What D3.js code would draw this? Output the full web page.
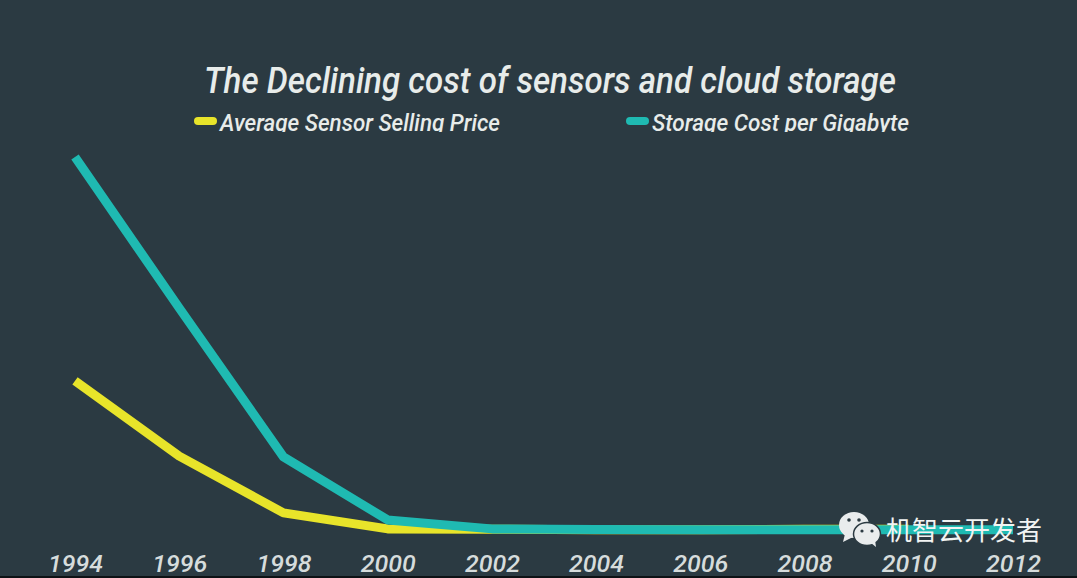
<!DOCTYPE html>
<html><head><meta charset="utf-8">
<script src="https://cdnjs.cloudflare.com/ajax/libs/d3/7.8.5/d3.min.js"></script>
<style>html,body{margin:0;padding:0;background:#2b3a42;overflow:hidden}svg{display:block}
text{font-family:"Roboto","Liberation Sans",sans-serif;font-style:italic;font-weight:500;fill:#e8ecea}</style>
</head><body><svg id="c" width="1077" height="578"></svg>
<script>
const years=[1994,1996,1998,2000,2002,2004,2006,2008,2010,2012];
const sensorPrice=[40,19.8,4.6,0.3,0.2,0.1,0.1,0.2,0.2,null];
const storageCost=[100,59.5,19.6,2.7,0.3,0.15,0.1,0.1,0.1,0.1];
const titleText="The Declining cost of sensors and cloud storage";
const seriesNames=["Average Sensor Selling Price","Storage Cost per Gigabyte"];
const seriesColors=["#e8e42a","#1fbab2"];
const watermark="机智云开发者";

const svg=d3.select("#c");
const x=d3.scalePoint().domain(years).range([75,1013]);
const y=d3.scaleLinear().domain([0,100]).range([530,157]);
const line=d3.line().defined(d=>d.v!==null).x(d=>x(d.y)).y(d=>y(d.v)).curve(d3.curveLinear);

svg.append("rect").attr("width",1077).attr("height",578).attr("fill","#2b3a42");
svg.append("rect").attr("y",576).attr("width",1077).attr("height",2).attr("fill","#0d1215");

[sensorPrice,storageCost].forEach((vals,i)=>{
  svg.append("path").datum(years.map((yr,j)=>({y:yr,v:vals[j]})))
    .attr("d",line).attr("fill","none").attr("stroke",seriesColors[i])
    .attr("stroke-width",9).attr("stroke-linejoin","round");
});

// title
svg.append("text").attr("x",550).attr("y",93).attr("text-anchor","middle")
  .attr("font-size",36).attr("textLength",692).attr("lengthAdjust","spacingAndGlyphs").text(titleText);

// legend (descenders are cut off in the source)
svg.append("defs").append("clipPath").attr("id","lg").append("rect")
  .attr("x",0).attr("y",100).attr("width",1077).attr("height",32);
const lg=svg.append("g").attr("clip-path","url(#lg)");
[[220,280],[652,257]].forEach(([lx,len],i)=>{
  lg.append("line").attr("x1",lx-22).attr("x2",lx-7).attr("y1",121).attr("y2",121)
    .attr("stroke",seriesColors[i]).attr("stroke-width",8).attr("stroke-linecap","round");
  lg.append("text").attr("x",lx).attr("y",131).attr("font-size",24)
    .attr("textLength",len).attr("lengthAdjust","spacingAndGlyphs").text(seriesNames[i]);
});

// x axis labels through the axis generator
const ax=svg.append("g").attr("transform","translate(0,572)")
  .call(d3.axisBottom(x).tickSize(0).tickPadding(0).tickFormat(d3.format("d")));
ax.select(".domain").remove();
ax.selectAll("text").attr("dy",0).attr("y",0).attr("font-size",24).style("fill","#d6dcdc")
  .attr("textLength",55).attr("lengthAdjust","spacingAndGlyphs");

// watermark
const wm=svg.append("g").attr("fill","#e9eced");
const tail=(p,c)=>wm.append("path").attr("d",p).attr("fill",c);
wm.append("ellipse").attr("cx",854).attr("cy",525).attr("rx",15).attr("ry",13);
tail("M845 534 L843 542 L853 537 Z","#e9eced");
wm.append("circle").attr("cx",849).attr("cy",520).attr("r",1.8).attr("fill","#2b3a42");
wm.append("circle").attr("cx",859).attr("cy",520).attr("r",1.8).attr("fill","#2b3a42");
wm.append("ellipse").attr("cx",867).attr("cy",534).attr("rx",13.5).attr("ry",11.5).attr("stroke","#2b3a42").attr("stroke-width",1.5);
tail("M871 543 L876 547 L875 540 Z","#e9eced");
wm.append("circle").attr("cx",862).attr("cy",531).attr("r",1.6).attr("fill","#2b3a42");
wm.append("circle").attr("cx",872).attr("cy",531).attr("r",1.6).attr("fill","#2b3a42");
svg.append("text").attr("x",886).attr("y",540).attr("font-size",26)
  .style("font-family",'"Noto Sans CJK SC"').style("font-style","normal").style("font-weight",400).style("fill","#f2f4f3").text(watermark);
</script></body></html>
